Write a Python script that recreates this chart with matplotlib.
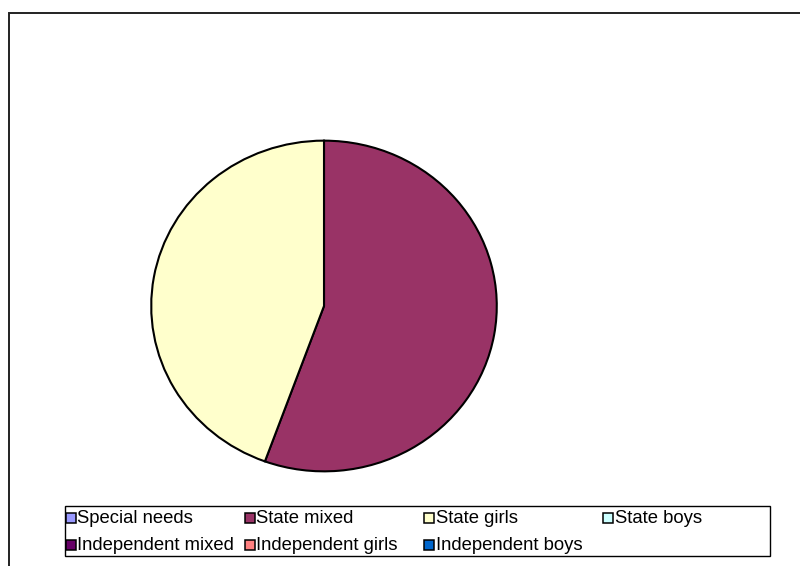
import matplotlib.pyplot as plt
from matplotlib.patches import Rectangle

plt.rcParams['font.family'] = ['Liberation Sans', 'DejaVu Sans']

# School types and pupil counts
categories = ['Special needs', 'State mixed', 'State girls', 'State boys',
              'Independent mixed', 'Independent girls', 'Independent boys']
counts = [0, 5, 4, 0, 0, 0, 0]
colors = ['#9999FF', '#993366', '#FFFFCC', '#CCFFFF',
          '#660066', '#FF8080', '#0066CC']

W, H = 800, 566
fig = plt.figure(figsize=(W / 100, H / 100), dpi=100)

def fx(px):
    return px / W

def fy(py):
    return 1 - py / H

# outer chart frame (runs off the right and bottom edges)
fig.patches.append(Rectangle((fx(8.5), fy(600)), fx(900), fy(12.5) - fy(600),
                             transform=fig.transFigure, fill=False,
                             edgecolor='#222222', linewidth=1.4))

# pie area, slightly wider than tall
cx, cy, rx, ry = 324, 306, 174.5, 167
ax = fig.add_axes([fx(cx - rx), fy(cy + ry), fx(2 * rx), fy(cy - ry) - fy(cy + ry)])
vals = [v for v in counts if v > 0]
cols = [c for v, c in zip(counts, colors) if v > 0]
ax.pie(vals, colors=cols, startangle=90, counterclock=False, radius=1,
       wedgeprops=dict(edgecolor='black', linewidth=1.5))
ax.set_aspect('auto')
ax.set_xlim(-1.01, 1.01)
ax.set_ylim(-1.01, 1.01)
ax.axis('off')

# legend box, laid out in rows of four equal columns
fig.patches.append(Rectangle((fx(64.5), fy(556)), fx(770 - 64.5), fy(506) - fy(556),
                             transform=fig.transFigure, fill=True, facecolor='white',
                             edgecolor='black', linewidth=1.0))
col_x = [65.7, 244.8, 424, 603]
row_base = [523, 550]
for i, (lab, c) in enumerate(zip(categories, colors)):
    x0 = col_x[i % 4]
    yb = row_base[i // 4]
    fig.patches.append(Rectangle((fx(x0), fy(yb)), fx(10), fy(yb - 10) - fy(yb),
                                 transform=fig.transFigure, facecolor=c,
                                 edgecolor='black', linewidth=1.1))
    fig.text(fx(x0 + 11.6), fy(yb), lab, fontsize=13.3, va='baseline', ha='left')

fig.savefig('out.png', dpi=100)
